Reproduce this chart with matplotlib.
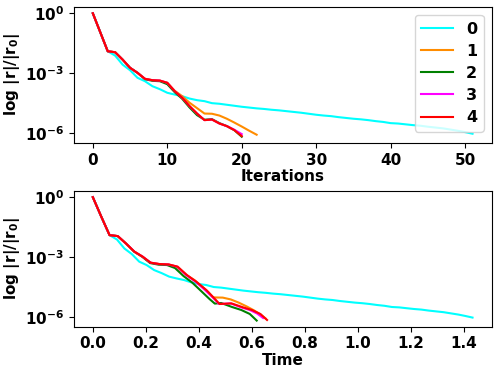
import matplotlib
matplotlib.use("Agg")
import numpy as np
import matplotlib.pyplot as plt

# log10 of relative residual, per iteration
res_0 = [0, -0.95, -1.9, -2.12, -2.57, -2.85, -3.23, -3.4, -3.65, -3.8, -3.98, -4.07, -4.15,
         -4.27, -4.35, -4.4, -4.5, -4.53, -4.58, -4.63, -4.68, -4.72, -4.76, -4.79, -4.83,
         -4.86, -4.9, -4.94, -4.98, -5.03, -5.08, -5.12, -5.15, -5.2, -5.24, -5.28, -5.31,
         -5.35, -5.4, -5.44, -5.5, -5.52, -5.56, -5.6, -5.63, -5.68, -5.72, -5.76, -5.82,
         -5.88, -5.95, -6.03]
res_1 = [0, -0.95, -1.9, -1.95, -2.32, -2.73, -2.98, -3.28, -3.35, -3.37, -3.48, -3.88,
         -4.15, -4.48, -4.75, -5.02, -5.03, -5.12, -5.28, -5.47, -5.67, -5.88, -6.08]
res_2 = [0, -0.95, -1.9, -1.95, -2.32, -2.73, -2.98, -3.3, -3.38, -3.4, -3.55, -3.95,
         -4.28, -4.72, -5.1, -5.33, -5.3, -5.5, -5.65, -5.85, -6.18]
res_3 = [0, -0.95, -1.9, -1.95, -2.32, -2.73, -2.98, -3.28, -3.35, -3.37, -3.48, -3.9,
         -4.23, -4.65, -5.02, -5.35, -5.32, -5.52, -5.65, -5.83, -6.05]
res_4 = [0, -0.95, -1.9, -1.95, -2.32, -2.73, -2.98, -3.28, -3.35, -3.37, -3.48, -3.9,
         -4.23, -4.65, -5.02, -5.35, -5.32, -5.52, -5.65, -5.85, -6.15]

# wall time at each iteration
time_0 = [0, 0.031, 0.063, 0.091, 0.119, 0.147, 0.175, 0.203, 0.231, 0.259, 0.288, 0.316,
          0.344, 0.372, 0.4, 0.428, 0.456, 0.484, 0.512, 0.54, 0.568, 0.596, 0.624, 0.652,
          0.68, 0.708, 0.736, 0.764, 0.792, 0.82, 0.848, 0.876, 0.904, 0.932, 0.96, 0.988,
          1.016, 1.044, 1.072, 1.1, 1.128, 1.156, 1.183, 1.211, 1.239, 1.267, 1.295, 1.323,
          1.351, 1.379, 1.405, 1.432]
time_1 = [0, 0.031, 0.063, 0.094, 0.125, 0.156, 0.187, 0.217, 0.25, 0.283, 0.315, 0.35,
          0.383, 0.412, 0.435, 0.453, 0.49, 0.52, 0.55, 0.58, 0.608, 0.632, 0.652]
time_2 = [0, 0.031, 0.063, 0.094, 0.125, 0.156, 0.186, 0.216, 0.248, 0.28, 0.31, 0.342,
          0.375, 0.41, 0.44, 0.46, 0.484, 0.525, 0.56, 0.592, 0.618]
time_3 = [0, 0.031, 0.063, 0.094, 0.125, 0.157, 0.188, 0.218, 0.25, 0.285, 0.318, 0.352,
          0.387, 0.423, 0.452, 0.476, 0.52, 0.56, 0.592, 0.62, 0.642]
time_4 = [0, 0.031, 0.063, 0.094, 0.125, 0.157, 0.188, 0.218, 0.252, 0.287, 0.32, 0.355,
          0.39, 0.428, 0.455, 0.478, 0.523, 0.567, 0.6, 0.632, 0.657]

labels = ["0", "1", "2", "3", "4"]
colors = ["cyan", "darkorange", "green", "magenta", "red"]
residuals = [res_0, res_1, res_2, res_3, res_4]
times = [time_0, time_1, time_2, time_3, time_4]

plt.rcParams["font.weight"] = "bold"
plt.rcParams["axes.labelweight"] = "bold"
plt.rcParams["mathtext.default"] = "bf"
plt.rcParams["font.size"] = 11

fig = plt.figure(figsize=(4.99, 3.76), dpi=100)
ax1 = fig.add_axes([0.148, 0.620, 0.837, 0.361])
ax2 = fig.add_axes([0.148, 0.131, 0.837, 0.361])

for res, t, lab, c in zip(residuals, times, labels, colors):
    r = 10 ** np.array(res)
    ax1.plot(np.arange(len(res)), r, color=c, lw=1.5, label=lab)
    ax2.plot(t, r, color=c, lw=1.5, label=lab)

for ax in (ax1, ax2):
    ax.set_yscale("log")
    ax.set_yticks([1e0, 1e-3, 1e-6])
    ax.minorticks_off()
    ax.set_ylabel(r"log |r|/|r$_0$|", labelpad=2)

ax1.set_xlabel("Iterations", labelpad=1)
ax2.set_xlabel("Time", labelpad=1)
ax2.set_xticks([0.0, 0.2, 0.4, 0.6, 0.8, 1.0, 1.2, 1.4])
ax1.legend(loc="upper right", fontsize=11.5, labelspacing=0.45, borderaxespad=0.5)

fig.savefig("out.png", dpi=100)
